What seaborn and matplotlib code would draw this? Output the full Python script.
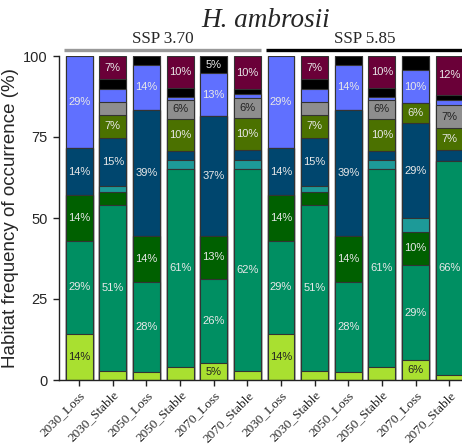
import numpy as np
import pandas as pd
import matplotlib
matplotlib.use("Agg")
import matplotlib.pyplot as plt
import seaborn as sns

# ---- data ----
periods = ["2030_Loss", "2030_Stable", "2050_Loss", "2050_Stable", "2070_Loss", "2070_Stable"] * 2
scenarios = ["SSP 3.70"] * 6 + ["SSP 5.85"] * 6
scenario_names = ["SSP 3.70", "SSP 5.85"]

# habitat classes, stacked bottom -> top (% of occurrence)
lightgreen = [14.3, 2.9, 2.6, 4.0, 5.1, 2.8, 14.3, 2.9, 2.6, 4.0, 6.2, 1.5]
green      = [28.6, 51.0, 27.8, 61.0, 26.2, 62.2, 28.6, 51.0, 27.8, 61.0, 29.2, 66.2]
darkgreen  = [14.3, 4.0, 13.9, 0.0, 13.2, 0.0, 14.3, 4.0, 13.9, 0.0, 10.4, 0.0]
teal       = [0.0, 2.1, 0.0, 2.8, 0.0, 3.0, 0.0, 2.1, 0.0, 2.8, 4.1, 0.0]
darkblue   = [14.3, 14.8, 39.1, 2.8, 37.0, 2.9, 14.3, 14.8, 39.1, 2.8, 29.3, 3.3]
olive      = [0.0, 7.0, 0.0, 10.0, 0.0, 10.0, 0.0, 7.0, 0.0, 10.0, 6.2, 6.7]
gray       = [0.0, 4.1, 0.0, 5.8, 0.0, 6.0, 0.0, 4.1, 0.0, 5.8, 0.0, 7.2]
lightblue  = [28.6, 3.9, 13.9, 1.0, 13.2, 1.5, 28.6, 3.9, 13.9, 1.0, 10.3, 1.5]
black      = [0.0, 3.1, 2.8, 2.8, 5.3, 1.3, 0.0, 3.1, 2.8, 2.8, 4.3, 1.7]
maroon     = [0.0, 7.1, 0.0, 9.8, 0.0, 10.3, 0.0, 7.1, 0.0, 9.8, 0.0, 11.9]

layers = [lightgreen, green, darkgreen, teal, darkblue, olive, gray, lightblue, black, maroon]
colors = ["#a9e030", "#008f62", "#006000", "#1d9a98", "#00466e",
          "#4b7100", "#8e8e8e", "#6070ff", "#000000", "#6a0038"]
label_colors = ["#222222", "#e8e8e8", "#e8e8e8", "#e8e8e8", "#e8e8e8",
                "#e8e8e8", "#222222", "#e8e8e8", "#e8e8e8", "#e8e8e8"]

# ---- plot ----
sns.set_style("ticks")
plt.rcParams['font.family'] = ['Liberation Sans', 'DejaVu Sans']

fig = plt.figure(figsize=(4.62, 4.46), dpi=100)
ax = fig.add_axes([59 / 462, 66 / 446, 407 / 462, 324 / 446])

ids = [f"b{i}" for i in range(len(periods))]
vals = np.array(layers)
cum = np.cumsum(vals, axis=0)

for k in reversed(range(len(layers))):
    df = pd.DataFrame({"bar": ids, "top": cum[k]})
    sns.barplot(data=df, x="bar", y="top", order=ids, color=colors[k], saturation=1,
                width=0.8, edgecolor="#333333", linewidth=0.8, errorbar=None, ax=ax)

for k in range(len(layers)):
    for i in range(len(ids)):
        v = vals[k, i]
        if round(v) >= 5:
            ax.text(i, cum[k, i] - v / 2, f"{int(round(v))}%", ha="center", va="center",
                    fontsize=8, color=label_colors[k])

ax.set_xlim(-0.6, 11.5)
ax.set_ylim(0, 100)
ax.set_yticks([0, 25, 50, 75, 100])
ax.set_yticklabels(["0", "25", "50", "75", "100"], fontsize=10.5)
ax.set_xticks(range(len(ids)))
ax.set_xticklabels(periods, rotation=45, ha="right", rotation_mode="anchor",
                   fontsize=9.5, family=["Liberation Serif", "DejaVu Serif"])
ax.tick_params(axis="both", length=4.5, width=1, color="#222222")
ax.tick_params(axis="x", pad=2)
ax.set_xlabel("")
ax.set_ylabel("Habitat frequency of occurrence (%)", fontsize=13.5, labelpad=3)
sns.despine(ax=ax)
for s in ["left", "bottom"]:
    ax.spines[s].set_color("#222222")
    ax.spines[s].set_linewidth(1.0)

# scenario group headers
line_cols = ["#999999", "#000000"]
for g, name in enumerate(scenario_names):
    x0, x1 = g * 6 - 0.45, g * 6 + 5.42
    ax.plot([x0, x1], [101.9, 101.9], color=line_cols[g], lw=2.4, clip_on=False,
            solid_capstyle="butt")
    ax.text(g * 6 + 2.5, 102.9, name, ha="center", va="bottom", fontsize=12.3,
            family=["Liberation Serif", "DejaVu Serif"], clip_on=False)

fig.text(266 / 462, 1 - 27 / 446, "H. ambrosii", ha="center", va="baseline",
         fontsize=19.5, style="italic", family=["Liberation Serif", "DejaVu Serif"])

fig.savefig("out.png", dpi=100)
